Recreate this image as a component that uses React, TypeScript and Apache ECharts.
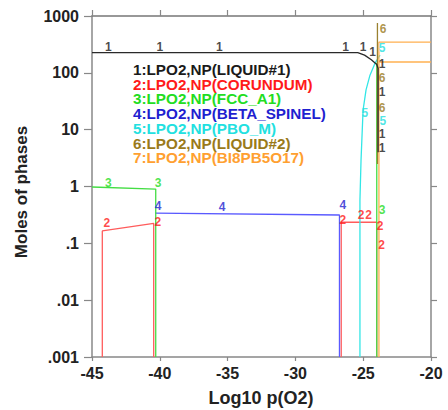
import React, { useEffect, useRef } from "react";
import * as echarts from "echarts";

// ---- data ----
const xTicks = [-45, -40, -35, -30, -25, -20];
const yTickLabels = [".001", ".01", ".1", "1", "10", "100", "1000"];

const legendTexts = [
  "1:LPO2,NP(LIQUID#1)",
  "2:LPO2,NP(CORUNDUM)",
  "3:LPO2,NP(FCC_A1)",
  "4:LPO2,NP(BETA_SPINEL)",
  "5:LPO2,NP(PBO_M)",
  "6:LPO2,NP(LIQUID#2)",
  "7:LPO2,NP(BI8PB5O17)",
];

const lineColors = ["#2a2a2a", "#ff5c5c", "#44dd44", "#5a5aff", "#33e6e6", "#9a8030", "#ffb050"];
const textColors = ["#1a1a1a", "#ff1a1a", "#22dd22", "#1f1fd0", "#22e0e0", "#9a7a1a", "#ffa030"];

// segments per phase: [x, moles]
const phase1Segments = [
  [[-45, 226], [-25.4, 226], [-24.9, 205], [-24.4, 170], [-24.0, 140], [-23.9, 120], [-23.9, 4]],
];
const phase2Segments = [
  [[-44.24, 0.001], [-44.24, 0.165], [-40.45, 0.225], [-40.45, 0.001]],
  [[-26.62, 0.001], [-26.62, 0.235], [-24.0, 0.235], [-24.0, 0.001]],
];
const phase3Segments = [
  [[-45, 0.98], [-40.3, 0.9], [-40.3, 0.001]],
  [[-24.0, 0.001], [-24.0, 150]],
];
const phase4Segments = [
  [[-40.35, 0.34], [-26.75, 0.315], [-26.75, 0.001]],
];
const phase5Segments = [
  [[-25.24, 0.001], [-25.24, 0.575], [-25.16, 2.9], [-25.01, 22], [-24.79, 50], [-24.5, 91], [-24.13, 148], [-23.76, 205]],
];
const phase6Segments = [
  [[-23.95, 750], [-23.95, 2.5]],
];
const phase7Segments = [
  [[-20, 348], [-23.84, 348], [-23.84, 0.001]],
  [[-23.84, 155], [-20, 155]],
];

// curve number labels (centre of each label)
const phase1Labels = [[-43.8, 280], [-40.0, 280], [-35.6, 280], [-26.3, 280], [-25.0, 290], [-24.3, 232], [-23.6, 143], [-23.6, 46], [-23.6, 8.4], [-23.6, 4.7]];
const phase2Labels = [[-43.9, 0.23], [-40.15, 0.235], [-26.5, 0.26], [-25.15, 0.31], [-24.6, 0.31], [-23.75, 0.2], [-23.65, 0.095]];
const phase3Labels = [[-43.8, 1.15], [-40.13, 1.15], [-23.6, 0.38]];
const phase4Labels = [[-40.13, 0.45], [-35.4, 0.43], [-26.5, 0.47]];
const phase5Labels = [[-24.87, 19.6], [-23.6, 275], [-23.55, 14]];
const phase6Labels = [[-23.54, 600], [-23.6, 81], [-23.6, 24]];
const phase7Labels: number[][] = [];

const allSegments = [phase1Segments, phase2Segments, phase3Segments, phase4Segments, phase5Segments, phase6Segments, phase7Segments];
const allLabels = [phase1Labels, phase2Labels, phase3Labels, phase4Labels, phase5Labels, phase6Labels, phase7Labels];
const drawOrder = [1, 3, 4, 2, 6, 5, 0];

const FONT = "'Liberation Sans', Arial, sans-serif";

export default function App() {
  const ref = useRef<HTMLDivElement>(null);
  useEffect(() => {
    if (!ref.current) return;
    const chart = echarts.init(ref.current, null, { renderer: "svg" });
    const series: any[] = [];
    drawOrder.forEach((p, k) => {
      allSegments[p].forEach((seg) => {
        series.push({
          type: "line",
          data: seg,
          showSymbol: false,
          symbol: "none",
          lineStyle: { color: lineColors[p], width: 1.3 },
          z: 2 + k,
          silent: true,
        });
      });
    });
    allLabels.forEach((labs, p) => {
      if (!labs.length) return;
      series.push({
        type: "scatter",
        data: labs,
        symbolSize: 1,
        itemStyle: { color: "rgba(0,0,0,0)" },
        z: 20,
        silent: true,
        label: {
          show: true,
          position: "inside",
          formatter: String(p + 1),
          color: textColors[p],
          fontFamily: FONT,
          fontWeight: "bold",
          fontSize: 12,
        },
      });
    });

    const axisLine = { show: true, lineStyle: { color: "#888", width: 1.5 } };
    const tickStyle = { color: "#888", width: 1.2 };

    chart.setOption({
      animation: false,
      grid: { left: 92, top: 16, width: 339, height: 341 },
      xAxis: [
        {
          type: "value",
          min: -45,
          max: -20,
          interval: 5,
          position: "bottom",
          axisLine,
          axisTick: { show: true, length: 4, lineStyle: tickStyle },
          splitLine: { show: false },
          axisLabel: {
            margin: 8,
            color: "#222",
            fontFamily: FONT,
            fontWeight: "bold",
            fontSize: 16,
            formatter: (v: number) => (xTicks.includes(Math.round(v)) ? String(Math.round(v)) : ""),
          },
        },
        {
          type: "value",
          min: -45,
          max: -20,
          interval: 5,
          position: "top",
          axisLine: { show: true, lineStyle: { color: "#777", width: 1.5 } },
          axisTick: { show: true, length: 6, lineStyle: tickStyle },
          splitLine: { show: false },
          axisLabel: { show: false },
        },
      ],
      yAxis: [
        {
          type: "log",
          logBase: 10,
          min: 0.001,
          max: 1000,
          position: "left",
          axisLine,
          axisTick: { show: true, length: 8, lineStyle: tickStyle },
          minorTick: { show: false },
          splitLine: { show: false },
          axisLabel: {
            margin: 13,
            color: "#222",
            fontFamily: FONT,
            fontWeight: "bold",
            fontSize: 16,
            formatter: (v: number) => yTickLabels[Math.round(Math.log10(v)) + 3] ?? "",
          },
        },
        {
          type: "log",
          logBase: 10,
          min: 0.001,
          max: 1000,
          position: "right",
          axisLine,
          axisTick: { show: true, length: 6, lineStyle: tickStyle },
          splitLine: { show: false },
          axisLabel: { show: false },
        },
      ],
      graphic: [
        ...legendTexts.map((t, i) => ({
          type: "text",
          x: 133,
          y: 70 + i * 14.75,
          scaleX: 1.09,
          silent: true,
          style: {
            text: t,
            fill: textColors[i],
            font: `bold 14px ${FONT}`,
            lineHeight: 14,
            textVerticalAlign: "middle",
          },
        })),
        {
          type: "text",
          x: 261,
          y: 398,
          silent: true,
          style: {
            text: "Log10 p(O2)",
            fill: "#222",
            font: `bold 18px ${FONT}`,
            textAlign: "center",
            textVerticalAlign: "middle",
          },
        },
        {
          type: "text",
          x: 21,
          y: 192,
          rotation: Math.PI / 2,
          silent: true,
          style: {
            text: "Moles of phases",
            fill: "#222",
            font: `bold 17px ${FONT}`,
            textAlign: "center",
            textVerticalAlign: "middle",
          },
        },
      ],
      series,
    });
    return () => chart.dispose();
  }, []);
  return <div ref={ref} style={{ position: "absolute", left: 0, top: 0, width: 448, height: 410 }} />;
}
